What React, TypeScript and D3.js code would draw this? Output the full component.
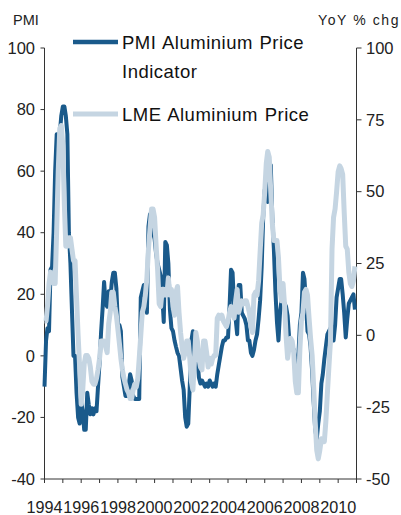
import * as d3 from 'd3';

// monthly observations, Jan 1994 .. Dec 2010
const pmiIndicator = [
  -10, 5, 9, 8, 28, 29, 40, 60, 72, 72, 72, 78,
  81, 81, 78, 72, 40, 30, 15, 0, 0, -12, -20, -22,
  -15, -18, -24, -24, -12, -16, -19, -17, -19, -17, -18, -10,
  -2, 8, 15, 24, 17, 16, 21, 18, 24, 27, 27, 22,
  10, 10, 8, -7, -10, -13, -13, -10, -6, -8, -13, -14,
  -14, -14, -14, 19, 21, 23, 22, 14, 42, 46, 45, 40,
  38, 33, 30, 28, 26, 20, 11, 37, 36, 30, 15, 9,
  8, 5, 3, 1, 0, -4, -8, -11, -20, -23, -22, -10,
  5, 8, 4, 3, -1, -7, -9, -8, -9, -10, -9, -10,
  -8, -9, -10, -9, -10, -6, -3, 0, 3, 5, 5, 6,
  6, 16, 28, 27, 16, 12, 7, 23, 23, 14, 13, 12,
  10, 5, 5, 1, 0, 2, 5, 7, 12, 18, 29, 45,
  54, 54, 50, 61, 62, 45, 35, 21, 11, 5, 14, 18,
  18, 17, 16, 13, 6, 5, 3, 2, -2, -4, 0, 10,
  14, 27, 25, 17, 8, 7, 3, -5, -15, -24, -27, -22,
  -18, -9, -6, -1, 3, 7, 8, 9, 7, 5, 10, 19,
  22, 25, 25, 20, 14, 6, 12, 17, 18, 19, 20, 15,
];

const lmeYoY = [
  5, 5, 10, 18, 22, 21, 18, 18, 37, 57, 72, 73,
  66, 45, 31, 31, 34, 34, 30, 26, 26, 13, 0, -11,
  -24, -19, -10, -7, -7, -8, -11, -16, -17, -17, -15, -12,
  -8, -2, -2, -2, -4, -6, 4, 8, 15, 15, 10, 7,
  2, -3, -8, -12, -15, -17, -19, -20, -22, -22, -19, -17,
  -18, -15, -8, 0, 8, 10, 14, 20, 30, 37, 44, 44,
  41, 31, 23, 11, 10, 16, 16, 14, 14, 20, 14, 16,
  10, 7, 15, 17, 8, 1, -4, -8, -6, -2, -2, -8,
  -16, -19, -10, 1, -2, -8, -11, -12, -2, -2, -6, -11,
  -8, -10, -8, -7, -7, 6, 7, 6, 7, 5, 4, 3,
  5, 8, 10, 8, 6, 12, 16, 8, 10, 12, 11, 12,
  12, 10, 8, 3, 1, 14, 15, 14, 19, 29, 39, 42,
  50, 60, 64, 62, 50, 39, 33, 33, 33, 27, 16, 12,
  18, 10, 0, -8, -4, -1, -2, -6, -16, -20, -20, -5,
  5, 8, 15, 16, 14, 6, -1, -7, -18, -30, -40, -43,
  -40, -36, -37, -37, -30, -20, -11, -2, 30, 41, 44, 50,
  57, 59, 58, 56, 43, 31, 30, 22, 18, 17, 19, 24,
];

const months = d3.timeMonth.range(new Date(1994, 0, 1), new Date(2011, 0, 1));
const yearLabels = ['1994', '1996', '1998', '2000', '2002', '2004', '2006', '2008', '2010'];
const leftTicks = [-40, -20, 0, 20, 40, 60, 80, 100];
const rightTicks = [-50, -25, 0, 25, 50, 75, 100];

const W = 401;
const H = 515;
const margin = { top: 48, right: 44, bottom: 36, left: 44.5 };
const FONT = 'Liberation Sans, Arial, sans-serif';
const DARK = '#1a5a8b';
const LIGHT = '#c5d5e2';

export default function App() {
  const x = d3.scaleTime()
    .domain([new Date(1994, 0, 1), new Date(2011, 0, 1)])
    .range([margin.left, W - margin.right - 0.5]);
  const yL = d3.scaleLinear().domain([-40, 100]).range([H - margin.bottom, margin.top]);
  const yR = d3.scaleLinear().domain([-50, 100]).range([H - margin.bottom, margin.top]);

  const pmiLine = d3.line<number>()
    .x((_, i) => x(months[i]))
    .y(d => yL(d));
  const lmeLine = d3.line<number>()
    .x((_, i) => x(months[i]))
    .y(d => yR(d));

  const x0 = x.range()[0];
  const x1 = x.range()[1];
  const yBottom = yL(-40);
  const yearTicks = d3.timeYear.range(new Date(1994, 0, 1), new Date(2012, 0, 1));

  return (
    <svg width={W} height={H} style={{ position: 'absolute', left: 0, top: 0, background: '#fff' }}
      fontFamily={FONT}>
      {/* axis titles */}
      <text x={13} y={25} fontSize={14.5} fill="#222">PMI</text>
      <text x={318} y={25} fontSize={14} fill="#222" letterSpacing={1.6}>YoY % chg</text>

      {/* left axis */}
      <line x1={x0} x2={x0} y1={yL(100)} y2={yBottom} stroke="#333" />
      {leftTicks.map(t => (
        <g key={'l' + t}>
          <line x1={x0 - 4} x2={x0} y1={yL(t)} y2={yL(t)} stroke="#333" />
          <text x={35} y={yL(t)} dy="0.35em" textAnchor="end" fontSize={16.5} fill="#222">{t}</text>
        </g>
      ))}

      {/* right axis */}
      <line x1={x1} x2={x1} y1={yR(100)} y2={yBottom} stroke="#333" />
      {rightTicks.map(t => (
        <g key={'r' + t}>
          <line x1={x1} x2={x1 + 5} y1={yR(t)} y2={yR(t)} stroke="#333" />
          <text x={366} y={yR(t)} dy="0.35em" textAnchor="start" fontSize={16.5} fill="#222">{t}</text>
        </g>
      ))}

      {/* bottom axis */}
      <line x1={x0} x2={x1} y1={yBottom} y2={yBottom} stroke="#333" />
      {yearTicks.map(d => (
        <line key={+d} x1={x(d)} x2={x(d)} y1={yBottom} y2={yBottom + 4} stroke="#333" />
      ))}
      {yearLabels.map(lbl => (
        <text key={lbl} x={x(new Date(+lbl, 0, 1))} y={513} textAnchor="middle" fontSize={16.2} fill="#222">{lbl}</text>
      ))}

      {/* series */}
      <path d={pmiLine(pmiIndicator) || ''} fill="none" stroke={DARK} strokeWidth={4} strokeLinejoin="round" />
      <path d={lmeLine(lmeYoY) || ''} fill="none" stroke={LIGHT} strokeWidth={5} strokeLinejoin="round" />

      {/* legend */}
      <line x1={73} x2={118} y1={42} y2={42} stroke={DARK} strokeWidth={4.5} />
      <text x={122} y={49} fontSize={18.5} fill="#111" letterSpacing={0.5} wordSpacing={1}>PMI Aluminium Price</text>
      <text x={122} y={78} fontSize={18.5} fill="#111" letterSpacing={0.5}>Indicator</text>
      <line x1={73} x2={118} y1={114} y2={114} stroke={LIGHT} strokeWidth={5} />
      <text x={122} y={121} fontSize={18.5} fill="#111" letterSpacing={0.5} wordSpacing={1}>LME  Aluminium Price</text>
    </svg>
  );
}
